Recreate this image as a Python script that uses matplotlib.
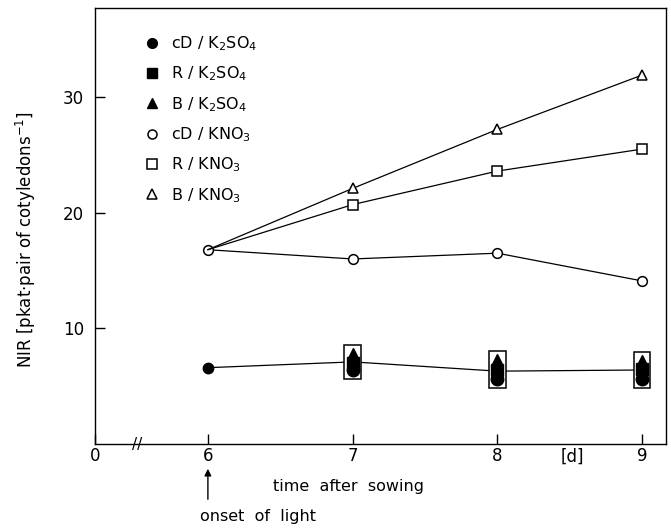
import matplotlib.pyplot as plt
from matplotlib.lines import Line2D
from matplotlib.patches import Rectangle
from matplotlib.transforms import blended_transform_factory

# days after sowing (x axis is broken between 0 and 6)
days = [6, 7, 8, 9]
x_zero = 5.22          # where the "0" sits after the axis break
x_break = 5.51
x_right = 9.165
x_tick_labels = ["0", "6", "7", "8", "9"]
y_ticks = [10, 20, 30]

# KNO3 series (open symbols); day 6 value is shared
cd_kno3 = [16.8, 16.0, 16.5, 14.1]
r_kno3 = [16.8, 20.7, 23.6, 25.5]
b_kno3 = [16.8, 22.1, 27.2, 31.9]

# K2SO4 series (filled symbols), boxed together from day 7 on
k2so4_line = [6.6, 7.1, 6.3, 6.4]
cd_k2so4 = [6.6, 6.4, 5.6, 5.6]
r_k2so4 = [6.6, 7.0, 6.4, 6.5]
b_k2so4 = [6.6, 7.8, 7.3, 7.2]

legend_labels = [
    r"cD / K$_2$SO$_4$",
    r"R / K$_2$SO$_4$",
    r"B / K$_2$SO$_4$",
    r"cD / KNO$_3$",
    r"R / KNO$_3$",
    r"B / KNO$_3$",
]

plt.rcParams["font.family"] = ["DejaVu Sans"]
plt.rcParams["mathtext.fontset"] = "dejavusans"

fig = plt.figure(figsize=(6.71, 5.32), dpi=100)
ax = fig.add_axes([95 / 671, 1 - 444 / 532, 571 / 671, 436 / 532])

lw = 0.9
open_kw = dict(color="black", lw=lw, mfc="white", mec="black", mew=1.1, ms=7)

# KNO3
ax.plot(days, cd_kno3, marker="o", zorder=3, **open_kw)
ax.plot(days, r_kno3, marker="s", markevery=[1, 2, 3], zorder=3, **open_kw)
ax.plot(days, b_kno3, marker="^", markevery=[1, 2, 3], zorder=3, **open_kw)

# K2SO4 connecting line with the single day-6 point
ax.plot(days, k2so4_line, color="black", lw=lw, marker="o", markevery=[0],
        ms=7.5, zorder=2)

# boxes around the grouped filled symbols
box_w = 0.115
for i in range(1, len(days)):
    lo = min(cd_k2so4[i], r_k2so4[i], b_k2so4[i]) - 0.8
    hi = max(cd_k2so4[i], r_k2so4[i], b_k2so4[i]) + 0.75
    ax.add_patch(Rectangle((days[i] - box_w / 2, lo), box_w, hi - lo,
                           facecolor="white", edgecolor="black", lw=1.1, zorder=3))

ax.plot(days[1:], cd_k2so4[1:], ls="none", marker="o", color="black", ms=9, zorder=4)
ax.plot(days[1:], r_k2so4[1:], ls="none", marker="s", color="black", ms=8, zorder=4)
ax.plot(days[1:], b_k2so4[1:], ls="none", marker="^", color="black", ms=9, zorder=4)

ax.set_xlim(x_zero, x_right)
ax.set_ylim(0, 37.7)
ax.set_xticks([x_zero] + days)
ax.set_xticklabels(x_tick_labels)
ax.set_yticks(y_ticks)
ax.tick_params(direction="in", length=7, width=1, labelsize=12)
ax.tick_params(axis="x", pad=2)
ax.tick_params(axis="y", pad=8)
for s in ax.spines.values():
    s.set_linewidth(1.0)

ax.set_ylabel(r"NIR [pkat$\cdot$pair of cotyledons$^{-1}$]", fontsize=12)
ax.yaxis.set_label_coords(-0.099, 0.47)

# axis break mark
bt = blended_transform_factory(ax.transData, ax.transAxes)
ax.text(x_break, 0, "//", transform=bt, ha="center", va="center",
        fontsize=11, clip_on=False)

# unit label and annotations below the axis
ax.text(8.52, -0.0095, "[d]", transform=bt, ha="center", va="top", fontsize=12)

ft = blended_transform_factory(ax.transData, fig.transFigure)
ax.annotate("", xy=(6, 1 - 466 / 532), xycoords=ft,
            xytext=(6, 1 - 502 / 532), textcoords=ft,
            arrowprops=dict(arrowstyle="-|>", color="black", lw=1,
                            mutation_scale=10))
ax.text(6 - 8 / 145, 1 - 517 / 532, "onset  of  light", transform=ft,
        ha="left", va="center", fontsize=11.5)
ax.text(6 + (349 - 208) / 145, 1 - 487 / 532, "time  after  sowing",
        transform=ft, ha="center", va="center", fontsize=11.5)

# legend
handles = [
    Line2D([], [], ls="none", marker="o", color="black", ms=7),
    Line2D([], [], ls="none", marker="s", color="black", ms=6.5),
    Line2D([], [], ls="none", marker="^", color="black", ms=7),
    Line2D([], [], ls="none", marker="o", mfc="white", mec="black", mew=1.1, ms=6.5),
    Line2D([], [], ls="none", marker="s", mfc="white", mec="black", mew=1.1, ms=6.5),
    Line2D([], [], ls="none", marker="^", mfc="white", mec="black", mew=1.1, ms=6.5),
]
ax.legend(handles, legend_labels, loc="upper left",
          bbox_to_anchor=(0.085, 0.94), frameon=False, fontsize=11.5,
          handlelength=1.0, handletextpad=0.7, labelspacing=0.73,
          borderpad=0, borderaxespad=0)

fig.savefig("out.png", dpi=100)
